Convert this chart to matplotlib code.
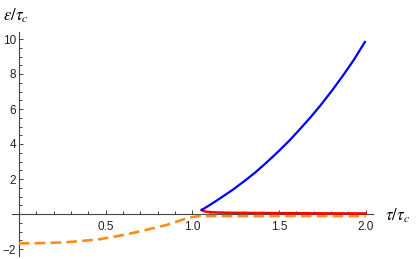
import matplotlib
matplotlib.use("Agg")
import matplotlib.pyplot as plt
from matplotlib.ticker import MultipleLocator, FixedLocator

plt.rcParams['mathtext.fontset'] = 'stix'
plt.rcParams['font.family'] = ['Liberation Sans', 'DejaVu Sans']

# upper branch (blue)
tau_blue = [1.054, 1.10, 1.15, 1.231, 1.30, 1.36, 1.423, 1.50, 1.56, 1.616,
            1.68, 1.74, 1.808, 1.87, 1.93, 1.995]
eps_blue = [0.23, 0.51, 0.83, 1.37, 1.88, 2.35, 2.9, 3.61, 4.20, 4.8,
            5.51, 6.22, 7.09, 7.93, 8.79, 9.83]

# lower branch (red)
tau_red = [1.054, 1.065, 1.08, 1.10, 1.13, 1.206, 1.35, 1.5, 1.65, 1.8, 2.0]
eps_red = [0.23, 0.17, 0.13, 0.11, 0.09, 0.07, 0.06, 0.05, 0.04, 0.035, 0.03]

# dashed curve (orange)
tau_orange = [0.0, 0.1, 0.2, 0.27, 0.35, 0.46, 0.55, 0.65, 0.75, 0.85,
              0.92, 0.96, 1.0, 1.04, 1.1, 1.3, 1.6, 2.0]
eps_orange = [-1.68, -1.67, -1.64, -1.62, -1.55, -1.45, -1.30, -1.10, -0.87, -0.63,
              -0.40, -0.27, -0.17, -0.12, -0.12, -0.12, -0.12, -0.12]

xticks_major = [0.5, 1.0, 1.5, 2.0]
xtick_labels = ['0.5', '1.0', '1.5', '2.0']
yticks_major = [-2, 2, 4, 6, 8, 10]
ytick_labels = ['\u22122', '2', '4', '6', '8', '10']

W, H = 417, 259
fig = plt.figure(figsize=(W / 100, H / 100), dpi=100)
ax = fig.add_axes([12 / W, 3 / H, 360.7 / W, 224 / H])
ax.set_xlim(-0.04, 2.04)
ax.set_ylim(-2.4, 10.4)

axis_col = '#444444'
for s in ['top', 'right']:
    ax.spines[s].set_visible(False)
for s in ['left', 'bottom']:
    ax.spines[s].set_position(('data', 0))
    ax.spines[s].set_color(axis_col)
    ax.spines[s].set_linewidth(0.8)

ax.xaxis.set_major_locator(FixedLocator(xticks_major))
ax.set_xticklabels(xtick_labels)
ax.xaxis.set_minor_locator(MultipleLocator(0.1))
ax.yaxis.set_major_locator(FixedLocator(yticks_major))
ax.set_yticklabels(ytick_labels)
ax.yaxis.set_minor_locator(MultipleLocator(0.5))
ax.tick_params(which='both', direction='in', color=axis_col, width=0.7,
               labelsize=8.5, labelcolor='#222222')
ax.tick_params(which='major', length=3.2)
ax.tick_params(which='minor', length=2.0)
ax.tick_params(axis='x', which='major', pad=5)
ax.tick_params(axis='y', which='major', pad=2)

ax.plot(tau_orange, eps_orange, color='#ff8c1a', lw=1.9, dashes=(4, 2),
        solid_capstyle='butt', zorder=3)
ax.plot(tau_red, eps_red, color='#ff0000', lw=1.8, zorder=4)
ax.plot(tau_blue, eps_blue, color='#0000ff', lw=1.6, zorder=5)

ax.text(2.11, -0.1, r'$\tau/\tau_c$', ha='left', va='center', fontsize=12,
        clip_on=False)
ax.text(-0.09, 11.3, r'$\varepsilon/\tau_c$', ha='left', va='center', fontsize=12,
        clip_on=False)

fig.savefig('out.png', dpi=100)
